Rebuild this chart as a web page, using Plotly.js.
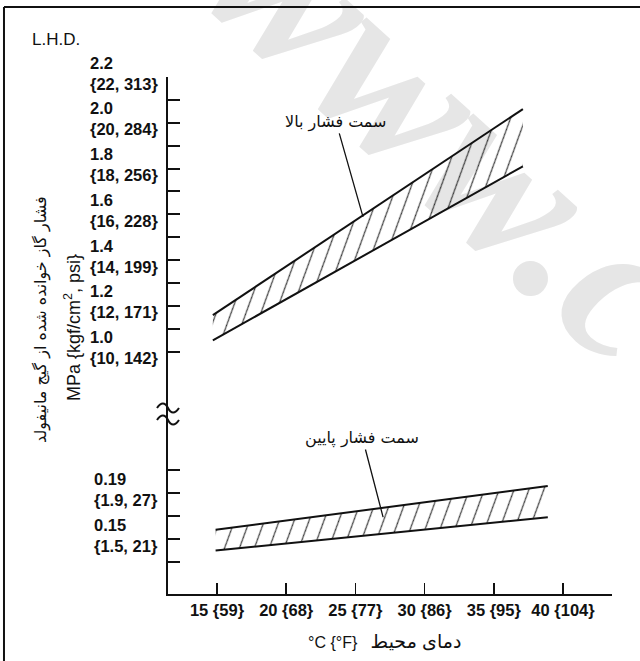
<!DOCTYPE html>
<html>
<head>
<meta charset="utf-8">
<script src="https://cdn.plot.ly/plotly-3.0.1.min.js"></script>
<style>
  html, body { margin: 0; padding: 0; background: #fff; }
  #wrap { position: relative; width: 640px; height: 661px; overflow: hidden; }
  #wm {
    position: absolute; left: 193px; top: -186px;
    font: italic bold 215px 'Liberation Serif', serif; line-height: 1;
    color: #e6e6e6; white-space: nowrap;
    transform-origin: 0 180px; transform: rotate(42deg);
  }
  #chart { position: absolute; left: 0; top: 0; width: 640px; height: 661px; }
</style>
</head>
<body>
<div id="wrap"><div id="wm">www.c</div><div id="chart"></div></div>
<script>
// Ambient temperature (°C) ticks and their labels
const tempTicks = [15, 20, 25, 30, 35, 40];
const tempTickText = ['15 {59}', '20 {68}', '25 {77}', '30 {86}', '35 {95}', '40 {104}'];

// High-pressure side band (MPa)
const highX = [14.7, 37.1];
const highUpper = [1.16, 2.06];
const highLower = [1.05, 1.81];

// Low-pressure side band (MPa)
const lowUpperX = [14.9, 31.3, 38.9];
const lowUpper = [0.158, 0.184, 0.196];
const lowLowerX = [14.9, 38.9];
const lowLower = [0.140, 0.169];

// Pressure axis ticks and labels
const highTicks = [1.0, 1.1, 1.2, 1.3, 1.4, 1.5, 1.6, 1.7, 1.8, 1.9, 2.0, 2.1, 2.2];
const highLabelVals = [2.2, 2.0, 1.8, 1.6, 1.4, 1.2, 1.0];
const highLabelText = ['2.2<br>{22, 313}', '2.0<br>{20, 284}', '1.8<br>{18, 256}', '1.6<br>{16, 228}',
                       '1.4<br>{14, 199}', '1.2<br>{12, 171}', '1.0<br>{10, 142}'];
const lowTicks = [0.13, 0.15, 0.17, 0.19, 0.21];
const lowLabelVals = [0.19, 0.15];
const lowLabelText = ['0.19<br>{1.9, 27}', '0.15<br>{1.5, 21}'];

// Band names, where each name sits and where its leader touches the band
const sideNames = ['سمت فشار بالا', 'سمت فشار پایین'];
const nameAt = [[23.6, 2.004], [25.51, 0.2378]];
const leaderTo = [[25.55, 1.589], [27.0, 0.169]];

const INK = '#111';
const SANS = 'Liberation Sans, Arial, DejaVu Sans, sans-serif';
const FARSI = 'DejaVu Sans, sans-serif';
const BREAK = 0.3424;   // where the lower and upper pressure scales meet

const hatch = { shape: '/', size: 14, solidity: 0.08, fgcolor: '#2a2a2a', bgcolor: 'rgba(0,0,0,0)' };
const edge = { color: INK, width: 2 };

const traces = [
  { x: highX, y: highLower, xaxis: 'x', yaxis: 'y2', mode: 'lines', line: edge, hoverinfo: 'skip' },
  { x: highX, y: highUpper, xaxis: 'x', yaxis: 'y2', mode: 'lines', line: edge, hoverinfo: 'skip',
    fill: 'tonexty', fillcolor: 'rgba(0,0,0,0)', fillpattern: hatch },
  { x: lowLowerX, y: lowLower, xaxis: 'x', yaxis: 'y', mode: 'lines', line: edge, hoverinfo: 'skip' },
  { x: lowUpperX, y: lowUpper, xaxis: 'x', yaxis: 'y', mode: 'lines', line: edge, hoverinfo: 'skip',
    fill: 'tonexty', fillcolor: 'rgba(0,0,0,0)', fillpattern: hatch }
];

const yCommon = {
  anchor: 'x', ticks: 'inside', ticklen: 12, tickwidth: 2, tickcolor: INK,
  showticklabels: false, showline: true, linewidth: 2, linecolor: INK,
  showgrid: false, zeroline: false, fixedrange: true
};

const annotations = [];
function tickLabels(vals, texts, yref) {
  vals.forEach((v, i) => annotations.push({
    xref: 'paper', x: 0, xanchor: 'right', xshift: -8, align: 'left',
    yref: yref, y: v, yanchor: 'middle', yshift: 4, showarrow: false,
    text: texts[i], font: { family: SANS, size: 16.5, color: INK, weight: 700 }
  }));
}
tickLabels(highLabelVals, highLabelText, 'y2');
tickLabels(lowLabelVals, lowLabelText, 'y');

['y2', 'y'].forEach((yref, i) => annotations.push({
  xref: 'x', yref: yref, x: leaderTo[i][0], y: leaderTo[i][1],
  axref: 'x', ayref: yref, ax: nameAt[i][0], ay: nameAt[i][1],
  text: sideNames[i], showarrow: true, arrowhead: 0, arrowwidth: 1.3, arrowcolor: INK,
  standoff: 0, startstandoff: 0,
  font: { family: FARSI, size: 16, color: INK }
}));

annotations.push(
  { xref: 'paper', yref: 'paper', x: -0.3108, y: 1.0716, xanchor: 'left', yanchor: 'middle',
    showarrow: false, text: 'L.H.D.', font: { family: SANS, size: 17, color: INK } },
  { xref: 'paper', yref: 'paper', x: 0, xshift: -127, xanchor: 'center', y: 0.530, yanchor: 'middle',
    textangle: -90, showarrow: false,
    text: 'فشار گاز خوانده شده از گیج مانیفولد', font: { family: FARSI, size: 16, color: INK } },
  { xref: 'paper', yref: 'paper', x: 0, xshift: -96, xanchor: 'center', y: 0.5145, yanchor: 'middle',
    textangle: -90, showarrow: false,
    text: 'MPa {kgf/cm<sup>2</sup>, psi}', font: { family: SANS, size: 18, color: INK } },
  { xref: 'paper', yref: 'paper', x: 0.4887, xanchor: 'center', y: -0.092, yanchor: 'middle',
    showarrow: false,
    text: '°C {°F}\u00a0\u00a0 <span style="font-size:19px">دمای محیط</span>',
    font: { family: SANS, size: 16, color: INK } }
);

// Axis break mark (two waves across the pressure axis)
function wave(yc) {
  return `M-11,${yc} C-7,${yc + 6} -3,${yc + 6} 0,${yc} C3,${yc - 6} 7,${yc - 6} 11,${yc}`;
}

const shapes = [
  { type: 'path', xref: 'paper', yref: 'paper', xsizemode: 'pixel', ysizemode: 'pixel',
    xanchor: 0, yanchor: BREAK, path: wave(9) + ' ' + wave(-3), line: { color: INK, width: 2 } },
  { type: 'line', xref: 'paper', yref: 'paper', x0: -0.3694, x1: -0.3694, y0: -0.3, y1: 1.1354,
    line: { color: INK, width: 2 } },
  { type: 'line', xref: 'paper', yref: 'paper', x0: -0.3694, x1: 1.2, y0: 1.1354, y1: 1.1354,
    line: { color: INK, width: 2 } }
];

const layout = {
  width: 640, height: 661,
  margin: { l: 168, r: 28, t: 77, b: 67, pad: 0 },
  paper_bgcolor: 'rgba(0,0,0,0)', plot_bgcolor: 'rgba(0,0,0,0)',
  showlegend: false,
  xaxis: {
    range: [11.46, 43.54], tickvals: tempTicks, ticktext: tempTickText,
    ticks: 'inside', ticklen: 11, tickwidth: 1.5, tickcolor: INK,
    showline: true, linewidth: 2, linecolor: INK, showgrid: false, zeroline: false,
    tickfont: { family: SANS, size: 16.5, color: INK, weight: 700 }, fixedrange: true
  },
  yaxis: Object.assign({}, yCommon, { domain: [0, BREAK], range: [0.1022, 0.2561], tickvals: lowTicks }),
  yaxis2: Object.assign({}, yCommon, { domain: [BREAK, 1], range: [0.7153, 2.2], tickvals: highTicks }),
  annotations: annotations,
  shapes: shapes
};

Plotly.newPlot('chart', traces, layout, { displayModeBar: false, staticPlot: true }).then(gd => {
  // steepen the hatching inside both bands
  gd.querySelectorAll('pattern').forEach(p => p.setAttribute('patternTransform', 'rotate(-25)'));
});
</script>
</body>
</html>
